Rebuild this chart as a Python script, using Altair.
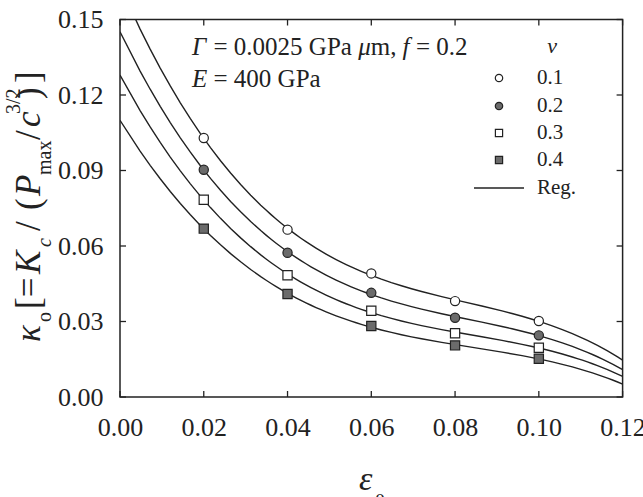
import altair as alt
import pandas as pd

# ---- data -----------------------------------------------------------------
eps = [0.02, 0.04, 0.06, 0.08, 0.10]
nu_labels = ["0.1", "0.2", "0.3", "0.4"]
kappa_nu01 = [0.1029, 0.0665, 0.0491, 0.0381, 0.0302]
kappa_nu02 = [0.0903, 0.0573, 0.0414, 0.0315, 0.0245]
kappa_nu03 = [0.0784, 0.0484, 0.0343, 0.0253, 0.0196]
kappa_nu04 = [0.0669, 0.0409, 0.0282, 0.0205, 0.0152]
x_ticks = [0.00, 0.02, 0.04, 0.06, 0.08, 0.10, 0.12]
y_ticks = [0.00, 0.03, 0.06, 0.09, 0.12, 0.15]

series = [kappa_nu01, kappa_nu02, kappa_nu03, kappa_nu04]
df = pd.DataFrame(
    [{"eps": e, "kappa": k, "nu": lab}
     for lab, ks in zip(nu_labels, series) for e, k in zip(eps, ks)]
)

# ---- layout ---------------------------------------------------------------
OX, OY = 120, 19.5          # plot-area origin inside the page
W, H = 502.6, 377.5         # plot-area size
SERIF = "Liberation Serif"
INK = "#222222"
GREY = "#6b6b6b"
TICK = 6

xs = alt.Scale(domain=[0, 0.12], nice=False, zero=False)
ys = alt.Scale(domain=[0, 0.15], nice=False, zero=False)
xaxis = alt.Axis(values=x_ticks, format=".2f", title="", ticks=False, domain=False,
                 grid=False, labelFont=SERIF, labelFontSize=26, labelColor=INK,
                 labelPadding=17, labelFlush=False, labelOverlap=False, labelBound=False)
yaxis = alt.Axis(values=y_ticks, format=".2f", title="", ticks=False, domain=False,
                 grid=False, labelFont=SERIF, labelFontSize=26, labelColor=INK,
                 labelPadding=17, labelOverlap=False, labelBound=False)
X = alt.X("eps:Q", scale=xs, axis=xaxis)
Y = alt.Y("kappa:Q", scale=ys, axis=yaxis)

base = alt.Chart(df)

# cubic regression curve for every Poisson ratio
curves = base.transform_regression(
    "eps", "kappa", method="poly", order=3, groupby=["nu"], extent=[0, 0.12]
).mark_line(clip=True, color=INK, strokeWidth=1.4).encode(x=X, y=Y, detail="nu:N")

points = base.mark_point(opacity=1, stroke=INK, strokeWidth=1.2, filled=False).encode(
    x=X, y=Y,
    shape=alt.Shape("nu:N", scale=alt.Scale(domain=nu_labels,
                    range=["circle", "circle", "square", "square"]), legend=None),
    fill=alt.Fill("nu:N", scale=alt.Scale(domain=nu_labels,
                  range=["white", GREY, "white", GREY]), legend=None),
    size=alt.Size("nu:N", scale=alt.Scale(domain=nu_labels, range=[85, 85, 72, 72]),
                  legend=None),
)

# inward tick marks on all four sides
xt = pd.DataFrame({"eps": x_ticks})
yt = pd.DataFrame({"kappa": y_ticks})
rule = dict(color=INK, strokeWidth=1.3)
ticks = [
    alt.Chart(xt).mark_rule(**rule).encode(x=X, y=alt.value(H), y2=alt.value(H - TICK)),
    alt.Chart(xt).mark_rule(**rule).encode(x=X, y=alt.value(0), y2=alt.value(TICK)),
    alt.Chart(yt).mark_rule(**rule).encode(y=Y, x=alt.value(0), x2=alt.value(TICK)),
    alt.Chart(yt).mark_rule(**rule).encode(y=Y, x=alt.value(W), x2=alt.value(W - TICK)),
]


def txt(s, x, y, size, italic=False, angle=0, align="left", baseline="alphabetic"):
    """A piece of text placed in page pixels."""
    kw = dict(font=SERIF, fontSize=size, color=INK, align=align, baseline=baseline)
    if italic:
        kw["fontStyle"] = "italic"
    if angle:
        kw["angle"] = angle
    return alt.Chart(pd.DataFrame({"t": [s]})).mark_text(**kw).encode(
        text="t:N", x=alt.value(x - OX), y=alt.value(y - OY))


texts = []

# y-axis title: kappa_o [=K_c / (P_max / c^{3/2})], read bottom to top
MB, SB, PB = 40, 51, 20     # baselines: main, subscript, superscript
FM, FS = 35, 20
for s, yy, bx, fs, it in [
    ("κ", 342, MB, FM, True),
    ("o", 322, SB, FS, False),
    ("[=", 309, MB, FM, False),
    ("K", 274, MB, FM, True),
    ("c", 247, SB, FS, True),
    ("/", 231, MB, FM, False),
    ("(", 210, MB, FM, False),
    ("P", 196, MB, FM, True),
    ("max", 175, SB, FS, False),
    ("/", 140, MB, FM, False),
    ("c", 127, MB, FM, True),
    ("3/2", 114, PB, FS, False),
    (")", 99, MB, FM, False),
    ("]", 83, MB, FM, False),
]:
    texts.append(txt(s, bx, yy, fs, italic=it, angle=270))

# x-axis title: epsilon_0
texts.append(txt("ε", 359, 490, 34, italic=True))
texts.append(txt("0", 375, 508, 20))

# parameter annotation
F = 25
for s, xx, yy, it in [
    ("Γ", 192, 55, True),
    ("= 0.0025 GPa", 213.5, 55, False),
    ("μ", 358.2, 55, True),
    ("m,", 370.7, 55, False),
    ("f", 402.6, 55, True),
    ("= 0.2", 415.9, 55, False),
    ("E", 192, 87, True),
    ("= 400 GPa", 213.5, 87, False),
]:
    texts.append(txt(s, xx, yy, F, italic=it))

# legend
LEG_SYM_X, LEG_LAB_X = 499, 537
leg_rows = [78, 106, 133, 160]
leg_shape = ["circle", "circle", "square", "square"]
leg_fill = ["white", GREY, "white", GREY]
legend = [txt("ν", 552, 53, 22, italic=True, align="center")]
for lab, yy, shp, fc in zip(nu_labels, leg_rows, leg_shape, leg_fill):
    legend.append(
        alt.Chart(pd.DataFrame({"t": [lab]})).mark_point(
            shape=shp, fill=fc, stroke=INK, strokeWidth=1.2, opacity=1,
            size=55 if shp == "circle" else 52,
        ).encode(x=alt.value(LEG_SYM_X - OX), y=alt.value(yy - OY))
    )
    legend.append(txt(lab, LEG_LAB_X, yy, 21, baseline="middle"))
legend.append(
    alt.Chart(pd.DataFrame({"t": ["Reg."]})).mark_rule(color=INK, strokeWidth=1.4).encode(
        x=alt.value(474 - OX), x2=alt.value(524 - OX), y=alt.value(188 - OY))
)
legend.append(txt("Reg.", LEG_LAB_X, 188, 21, baseline="middle"))

chart = alt.layer(curves, points, *ticks, *texts, *legend).properties(
    width=W, height=H,
    autosize="none",
    padding={"left": OX, "top": OY, "right": 643 - OX - W, "bottom": 497 - OY - H},
    background="white",
).configure_view(stroke=INK, strokeWidth=1.5)

chart.save("out.html", embed_options={"renderer": "svg", "actions": False})
